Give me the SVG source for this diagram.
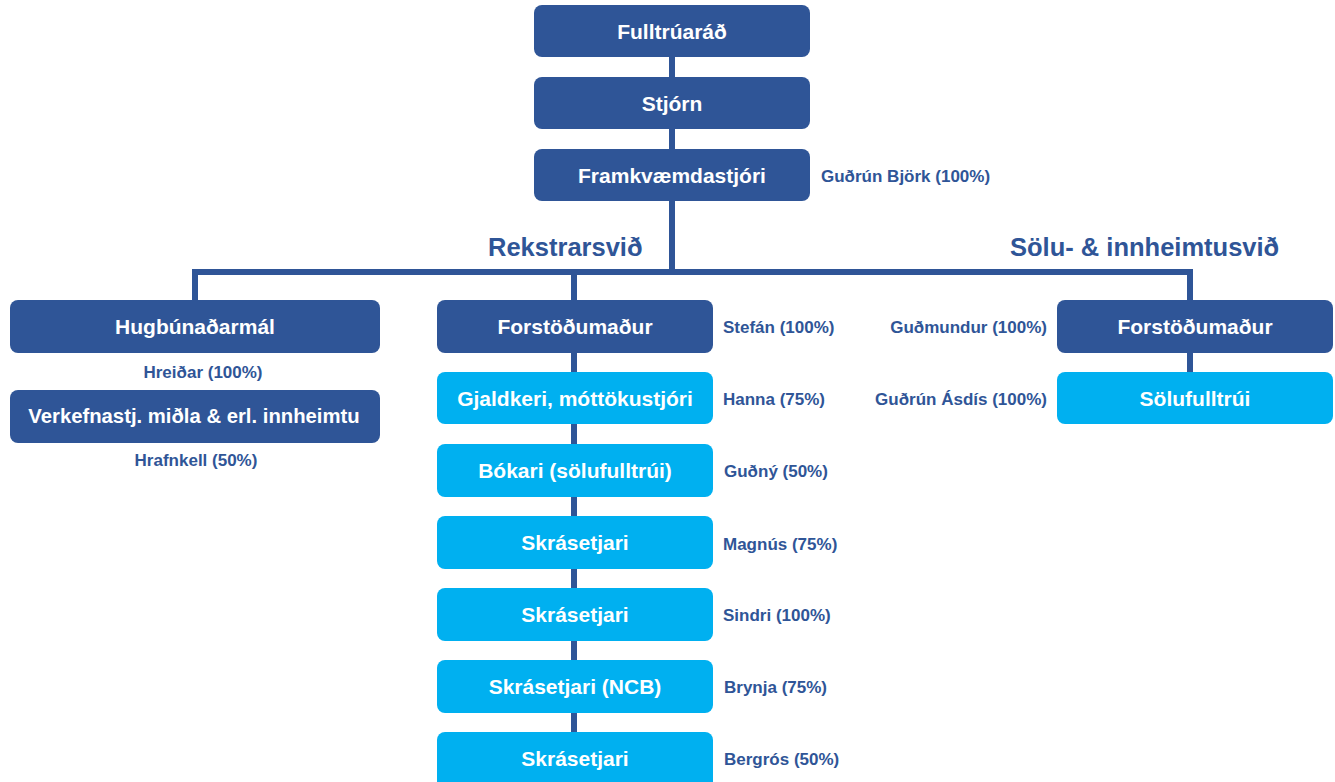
<svg xmlns="http://www.w3.org/2000/svg" width="1335" height="782" viewBox="0 0 1335 782">
<style>
.d{fill:#2F5597}
.l{fill:#00B0F0}
.t{font-family:"Liberation Sans",Arial,sans-serif;font-weight:bold;font-size:21px;fill:#fff;text-anchor:middle;dominant-baseline:central}
.n{font-family:"Liberation Sans",Arial,sans-serif;font-weight:bold;font-size:17px;fill:#2F5597;dominant-baseline:central}
.h{font-family:"Liberation Sans",Arial,sans-serif;font-weight:bold;font-size:25.5px;fill:#2F5597;dominant-baseline:central}
.c{fill:none;stroke:#2F5597;stroke-width:6}
</style>
<rect width="1335" height="782" fill="#fff"/>
<g id="connectors">
<path class="c" d="M672 57V149M672 201V272M195 300V272H1190V300M574 272V300M574 353V735M1190 353V372"/>
</g>
<g id="fulltruarad"><rect class="d" x="534" y="5" width="276" height="52" rx="8"/><text class="t" x="672" y="31">Fulltrúaráð</text></g>
<g id="stjorn"><rect class="d" x="534" y="77" width="276" height="52" rx="8"/><text class="t" x="672" y="103">Stjórn</text></g>
<g id="framkvaemdastjori"><rect class="d" x="534" y="149" width="276" height="52" rx="8"/><text class="t" x="672" y="175">Framkvæmdastjóri</text><text class="n" x="821" y="176">Guðrún Björk (100%)</text></g>
<g id="rekstrarsvid"><text class="h" x="488" y="247">Rekstrarsvið</text></g>
<g id="solusvid"><text class="h" x="1010" y="247">Sölu- &amp; innheimtusvið</text></g>
<g id="hugbunadarmal"><rect class="d" x="10" y="300" width="370" height="53" rx="8"/><text class="t" x="195" y="326">Hugbúnaðarmál</text><text class="n" x="203" y="372" text-anchor="middle">Hreiðar (100%)</text></g>
<g id="verkefnastj"><rect class="d" x="10" y="390" width="370" height="53" rx="8"/><text class="t" x="194" y="416" style="font-size:20.3px">Verkefnastj. miðla &amp; erl. innheimtu</text><text class="n" x="196" y="460" text-anchor="middle">Hrafnkell (50%)</text></g>
<g id="forstodumadur1"><rect class="d" x="437" y="300" width="276" height="53" rx="8"/><text class="t" x="575" y="326">Forstöðumaður</text><text class="n" x="723" y="327">Stefán (100%)</text></g>
<g id="gjaldkeri"><rect class="l" x="437" y="372" width="276" height="52" rx="8"/><text class="t" x="575" y="398">Gjaldkeri, móttökustjóri</text><text class="n" x="723" y="399">Hanna (75%)</text></g>
<g id="bokari"><rect class="l" x="437" y="444" width="276" height="53" rx="8"/><text class="t" x="575" y="470">Bókari (sölufulltrúi)</text><text class="n" x="724" y="471">Guðný (50%)</text></g>
<g id="skrasetjari1"><rect class="l" x="437" y="516" width="276" height="53" rx="8"/><text class="t" x="575" y="542">Skrásetjari</text><text class="n" x="723" y="544">Magnús (75%)</text></g>
<g id="skrasetjari2"><rect class="l" x="437" y="588" width="276" height="53" rx="8"/><text class="t" x="575" y="614">Skrásetjari</text><text class="n" x="723" y="615">Sindri (100%)</text></g>
<g id="skrasetjari3"><rect class="l" x="437" y="660" width="276" height="53" rx="8"/><text class="t" x="575" y="686">Skrásetjari (NCB)</text><text class="n" x="724" y="687">Brynja (75%)</text></g>
<g id="skrasetjari4"><rect class="l" x="437" y="732" width="276" height="60" rx="8"/><text class="t" x="575" y="758">Skrásetjari</text><text class="n" x="724" y="759">Bergrós (50%)</text></g>
<g id="forstodumadur2"><rect class="d" x="1057" y="300" width="276" height="53" rx="8"/><text class="t" x="1195" y="326">Forstöðumaður</text><text class="n" x="1047" y="327" text-anchor="end">Guðmundur (100%)</text></g>
<g id="solufulltrui"><rect class="l" x="1057" y="372" width="276" height="52" rx="8"/><text class="t" x="1195" y="398">Sölufulltrúi</text><text class="n" x="1047" y="399" text-anchor="end">Guðrún Ásdís (100%)</text></g>
</svg>
